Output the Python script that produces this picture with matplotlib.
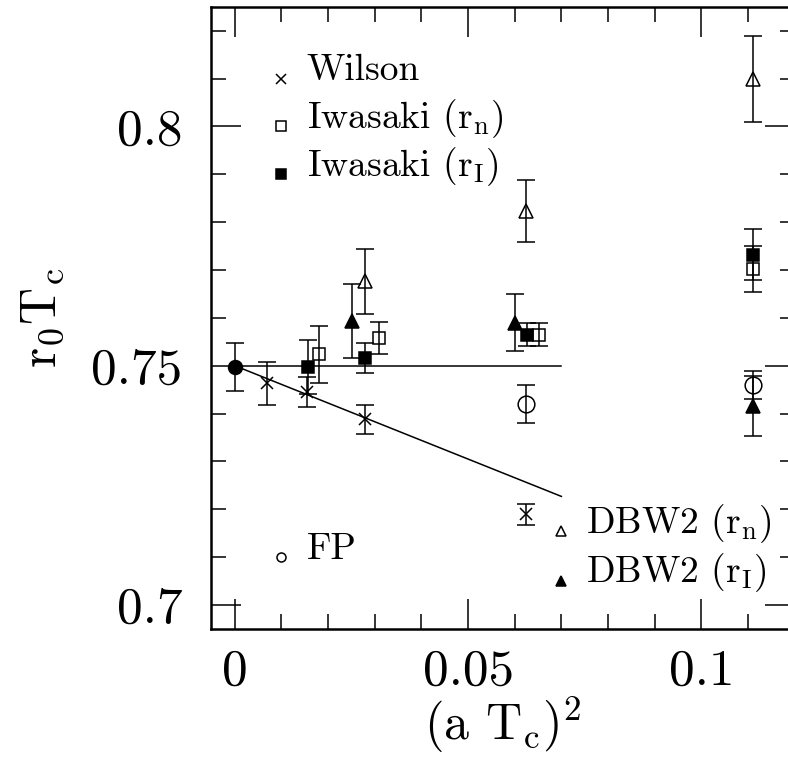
import numpy as np
import matplotlib
matplotlib.use('Agg')
import matplotlib.pyplot as plt
from matplotlib.ticker import MultipleLocator, FuncFormatter

plt.rcParams['font.family'] = ['cmr10', 'DejaVu Serif']
plt.rcParams['mathtext.fontset'] = 'cm'
plt.rcParams['axes.formatter.use_mathtext'] = True

# valores
wilson_x = [0.0070, 0.0155, 0.0278, 0.0624]
wilson_y = [0.7463, 0.7445, 0.7388, 0.7190]
wilson_err = [0.0044, 0.0032, 0.0030, 0.0022]

iwan_x = [0.0180, 0.0310, 0.0651, 0.1110]
iwan_y = [0.7524, 0.7558, 0.7565, 0.7702]
iwan_err = [0.0060, 0.0034, 0.0024, 0.0049]

iwai_x = [0.0156, 0.0278, 0.0626, 0.1110]
iwai_y = [0.7497, 0.7516, 0.7565, 0.7732]
iwai_err = [0.0056, 0.0031, 0.0024, 0.0053]

dbwn_x = [0.0278, 0.0624, 0.1110]
dbwn_y = [0.7676, 0.7823, 0.8099]
dbwn_err = [0.0067, 0.0064, 0.0090]

dbwi_x = [0.0251, 0.0601, 0.1110]
dbwi_y = [0.7593, 0.7590, 0.7416]
dbwi_err = [0.0077, 0.0060, 0.0063]

fp_x = [0.0624, 0.1110]
fp_y = [0.7420, 0.7459]
fp_err = [0.0040, 0.0029]

cont_x = [0.0]
cont_y = [0.7497]
cont_err = [0.0050]

# ajustes
fit_x = [0.0, 0.070]
fit_const = [0.750, 0.750]
fit_wilson = [0.750, 0.7227]

fig = plt.figure(figsize=(7.88, 7.57), dpi=100)
ax = fig.add_axes([0.2684, 0.1691, 0.7400, 0.8220])

lw = 1.1
eb = dict(color='black', ecolor='black', elinewidth=lw, capsize=6.5, capthick=lw,
          linestyle='none', markeredgewidth=lw)

ax.plot(fit_x, fit_const, color='black', lw=lw)
ax.plot(fit_x, fit_wilson, color='black', lw=lw)

ax.errorbar(wilson_x, wilson_y, yerr=wilson_err, marker='x', markersize=9, **eb)
ax.errorbar(iwan_x, iwan_y, yerr=iwan_err, marker='s', markersize=8.5, mfc='none', **eb)
ax.errorbar(iwai_x, iwai_y, yerr=iwai_err, marker='s', markersize=8.5, mfc='black', **eb)
ax.errorbar(dbwn_x, dbwn_y, yerr=dbwn_err, marker='^', markersize=10, mfc='none', **eb)
ax.errorbar(dbwi_x, dbwi_y, yerr=dbwi_err, marker='^', markersize=10, mfc='black', **eb)
ax.errorbar(fp_x, fp_y, yerr=fp_err, marker='o', markersize=12, mfc='none', **eb)
ax.errorbar(cont_x, cont_y, yerr=cont_err, marker='o', markersize=10, mfc='black', **eb)

# leyenda a mano
leg = [
    (0.0100, 0.8100, 'x', 'none', 'Wilson'),
    (0.0100, 0.8000, 's', 'none', r'Iwasaki (r$_{\rm n}$)'),
    (0.0100, 0.7900, 's', 'black', r'Iwasaki (r$_{\rm I}$)'),
    (0.0100, 0.7100, 'o', 'none', 'FP'),
    (0.0699, 0.7155, '^', 'none', r'DBW2 (r$_{\rm n}$)'),
    (0.0699, 0.7051, '^', 'black', r'DBW2 (r$_{\rm I}$)'),
]
for lx, ly, m, fc, txt in leg:
    ax.plot([lx], [ly], marker=m, markersize=6.5, mfc=fc, mec='black', mew=lw,
            linestyle='none')
    ax.text(lx + 0.0054, ly - 0.0004, txt, fontsize=27, ha='left', va='baseline')

ax.set_xlim(-0.005, 0.12)
ax.set_ylim(0.695, 0.825)

fmt = FuncFormatter(lambda v, p: '%g' % round(v, 4))
ax.xaxis.set_major_locator(MultipleLocator(0.05))
ax.xaxis.set_minor_locator(MultipleLocator(0.01))
ax.yaxis.set_major_locator(MultipleLocator(0.05))
ax.yaxis.set_minor_locator(MultipleLocator(0.01))
ax.xaxis.set_major_formatter(fmt)
ax.yaxis.set_major_formatter(fmt)

ax.tick_params(which='both', direction='in', top=True, right=True, width=lw)
ax.tick_params(which='major', length=21.6, labelsize=37)
ax.tick_params(axis='y', which='major', pad=21)
ax.tick_params(axis='x', which='major', pad=14)
ax.tick_params(which='minor', length=11)
for s in ax.spines.values():
    s.set_linewidth(1.8)

ax.set_xlabel(r'(a T$_{\rm c}$)$^2$', fontsize=36, labelpad=0)
ax.set_ylabel(r'r$_{\rm 0}$T$_{\rm c}$', fontsize=37, labelpad=18)

fig.savefig('out.png', dpi=100)
